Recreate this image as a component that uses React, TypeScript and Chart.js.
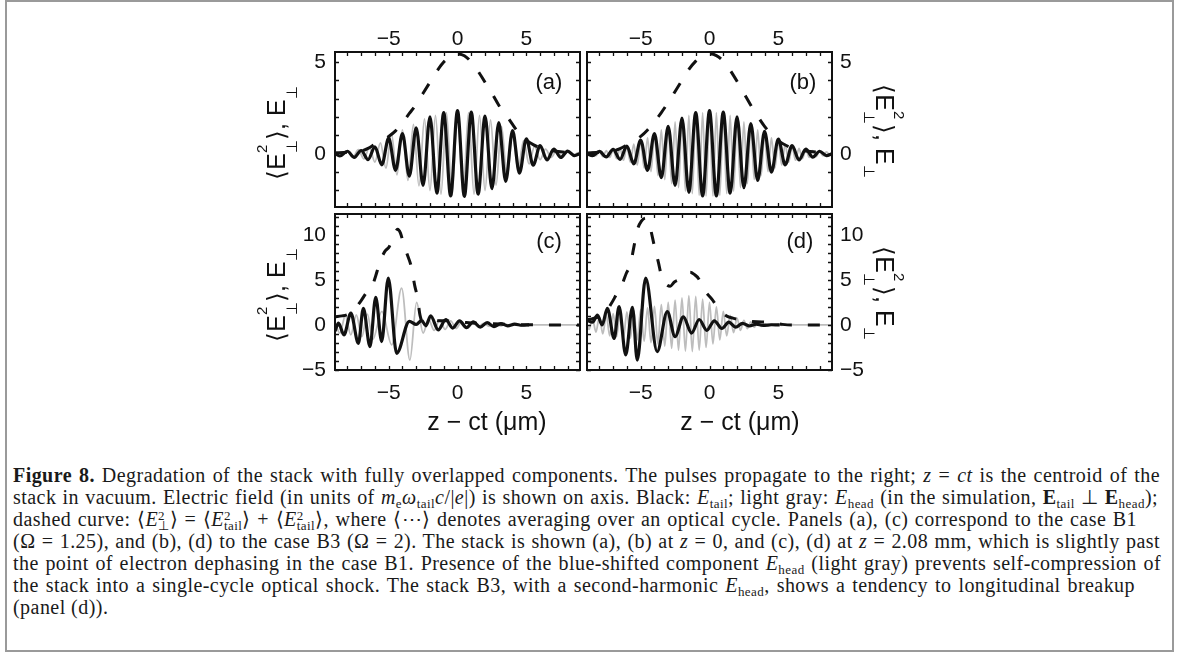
import React, { useEffect, useRef } from "react";
import { Chart, registerables } from "chart.js";

Chart.register(...registerables);

type Pt = [number, number];

// ---------- axes ----------
const X_MIN = -8.9;
const X_MAX = 8.9;
const X_TICK_LABELS = [-5, 0, 5];
const TOP_Y_MIN = -2.9;
const TOP_Y_MAX = 5.55;
const TOP_Y_TICK_LABELS = [0, 5];
const BOT_Y_MIN = -5;
const BOT_Y_MAX = 12.3;
const BOT_Y_TICK_LABELS = [-5, 0, 5, 10];
const PANEL_LABELS = ["(a)", "(b)", "(c)", "(d)"];
const X_TITLE = "z \u2212 ct (\u03bcm)";

// ---------- panel (a): case B1, z = 0 ----------
const tailA: Pt[] = [
  [-8.9, 0.02], [-8.55, -0.12], [-8.0, 0.14], [-7.5, -0.2], [-7.0, 0.18], [-6.5, -0.32],
  [-6.0, 0.38], [-5.5, -0.6], [-5.0, 0.85], [-4.5, -0.9], [-4.0, 1.1], [-3.5, -1.22],
  [-3.0, 1.42], [-2.5, -1.72], [-2.0, 2.02], [-1.5, -2.15], [-1.0, 2.25], [-0.5, -2.3],
  [0.0, 2.36], [0.5, -2.32], [1.0, 2.28], [1.5, -2.2], [2.0, 2.05], [2.5, -1.9],
  [3.0, 1.7], [3.5, -1.5], [4.0, 1.27], [4.5, -1.05], [5.0, 0.82], [5.5, -0.62],
  [6.0, 0.45], [6.5, -0.33], [7.0, 0.25], [7.5, -0.2], [8.0, 0.15], [8.5, -0.1], [8.9, 0.02],
];
const headA: Pt[] = [
  [-8.9, 0.0], [-8.8, 0.1], [-8.4, -0.12], [-8.0, 0.15], [-7.6, -0.18], [-7.2, 0.22], [-6.8, -0.28],
  [-6.4, 0.35], [-6.0, -0.45], [-5.6, 0.6], [-5.2, -0.78], [-4.8, 1.1], [-4.4, -1.15],
  [-4.0, 1.3], [-3.6, -1.45], [-3.2, 1.6], [-2.8, -1.75], [-2.4, 1.9], [-2.0, -2.0],
  [-1.6, 2.1], [-1.2, -2.2], [-0.8, 2.25], [-0.4, -2.3], [0.0, 2.3], [0.4, -2.3],
  [0.8, 2.25], [1.2, -2.2], [1.6, 2.1], [2.0, -2.0], [2.4, 1.85], [2.8, -1.7],
  [3.2, 1.5], [3.6, -1.3], [4.0, 1.1], [4.4, -0.9], [4.8, 0.72], [5.2, -0.55],
  [5.6, 0.42], [6.0, -0.32], [6.4, 0.25], [6.8, -0.2], [7.2, 0.16], [7.6, -0.13],
  [8.0, 0.1], [8.4, -0.08], [8.8, 0.06], [8.9, 0.0],
];
const dashA: Pt[] = [
  [-8.9, 0.05], [-8.0, 0.08], [-7.0, 0.15], [-6.5, 0.3], [-6.0, 0.52], [-5.5, 0.72],
  [-5.0, 0.95], [-4.5, 1.25], [-4.0, 1.7], [-3.5, 2.2], [-3.0, 2.7], [-2.5, 3.3],
  [-2.0, 3.9], [-1.5, 4.5], [-1.0, 5.0], [-0.5, 5.3], [0.0, 5.45], [0.5, 5.35],
  [1.0, 5.0], [1.5, 4.5], [2.0, 3.9], [2.5, 3.3], [3.0, 2.65], [3.5, 2.15],
  [4.0, 1.6], [4.5, 1.1], [5.0, 0.75], [5.5, 0.5], [6.0, 0.33], [7.0, 0.15],
  [8.0, 0.08], [8.9, 0.05],
];

// ---------- panel (b): case B3, z = 0 ----------
const tailB: Pt[] = [
  [-8.9, 0.0], [-8.5, -0.1], [-8.0, 0.13], [-7.5, -0.17], [-7.0, 0.24], [-6.5, -0.3],
  [-6.0, 0.42], [-5.5, -0.55], [-5.0, 0.75], [-4.5, -0.9], [-4.0, 1.1], [-3.5, -1.3],
  [-3.0, 1.5], [-2.5, -1.72], [-2.0, 1.95], [-1.5, -2.1], [-1.0, 2.25], [-0.5, -2.3],
  [0.0, 2.35], [0.5, -2.3], [1.0, 2.27], [1.5, -2.15], [2.0, 2.02], [2.5, -1.85],
  [3.0, 1.65], [3.5, -1.45], [4.0, 1.22], [4.5, -1.0], [5.0, 0.8], [5.5, -0.6],
  [6.0, 0.45], [6.5, -0.33], [7.0, 0.25], [7.5, -0.18], [8.0, 0.14], [8.5, -0.1], [8.9, 0.0],
];
const headB: Pt[] = [
  [-8.9, 0.0], [-8.75, -0.08], [-8.5, 0.1], [-8.25, -0.11], [-8.0, 0.13], [-7.75, -0.15],
  [-7.5, 0.17], [-7.25, -0.2], [-7.0, 0.23], [-6.75, -0.26], [-6.5, 0.3], [-6.25, -0.35],
  [-6.0, 0.4], [-5.75, -0.46], [-5.5, 0.53], [-5.25, -0.61], [-5.0, 0.69], [-4.75, -0.78],
  [-4.5, 0.87], [-4.25, -0.97], [-4.0, 1.08], [-3.75, -1.19], [-3.5, 1.3], [-3.25, -1.41],
  [-3.0, 1.52], [-2.75, -1.63], [-2.5, 1.74], [-2.25, -1.84], [-2.0, 1.94], [-1.75, -2.03],
  [-1.5, 2.1], [-1.25, -2.17], [-1.0, 2.2], [-0.75, -2.26], [-0.5, 2.25], [-0.25, -2.3],
  [0.0, 2.28], [0.25, -2.3], [0.5, 2.25], [0.75, -2.26], [1.0, 2.2], [1.25, -2.17],
  [1.5, 2.1], [1.75, -2.03], [2.0, 1.94], [2.25, -1.84], [2.5, 1.74], [2.75, -1.63],
  [3.0, 1.52], [3.25, -1.41], [3.5, 1.3], [3.75, -1.19], [4.0, 1.08], [4.25, -0.97],
  [4.5, 0.87], [4.75, -0.78], [5.0, 0.69], [5.25, -0.61], [5.5, 0.53], [5.75, -0.46],
  [6.0, 0.4], [6.25, -0.35], [6.5, 0.3], [6.75, -0.26], [7.0, 0.23], [7.25, -0.2],
  [7.5, 0.17], [7.75, -0.15], [8.0, 0.13], [8.25, -0.11], [8.5, 0.1], [8.75, -0.08], [8.9, 0.0],
];
const dashB: Pt[] = [
  [-8.9, 0.05], [-8.0, 0.08], [-7.0, 0.15], [-6.5, 0.28], [-6.0, 0.48], [-5.5, 0.7],
  [-5.0, 0.95], [-4.5, 1.3], [-4.0, 1.75], [-3.5, 2.25], [-3.0, 2.8], [-2.5, 3.4],
  [-2.0, 4.0], [-1.5, 4.6], [-1.0, 5.05], [-0.5, 5.35], [0.0, 5.45], [0.5, 5.35],
  [1.0, 5.05], [1.5, 4.55], [2.0, 3.95], [2.5, 3.3], [3.0, 2.65], [3.5, 2.05],
  [4.0, 1.5], [4.5, 1.05], [5.0, 0.72], [5.5, 0.48], [6.0, 0.32], [7.0, 0.15],
  [8.0, 0.08], [8.9, 0.05],
];

// ---------- panel (c): case B1, z = 2.08 mm ----------
const tailC: Pt[] = [
  [-8.9, -0.7], [-8.65, 0.2], [-8.25, -1.1], [-7.75, 1.3], [-7.2, -2.04], [-6.84, 1.85],
  [-6.36, -2.4], [-5.94, 3.07], [-5.51, -1.85], [-5.03, 5.2], [-4.42, -3.15], [-3.5, 0.4],
  [-3.0, 0.05], [-2.6, 0.5], [-2.3, -0.1], [-1.95, 1.0], [-1.4, -0.55], [-0.85, 0.6],
  [-0.35, -0.35], [0.15, 0.45], [0.65, -0.3], [1.15, 0.35], [1.65, -0.25], [2.15, 0.25],
  [2.65, -0.18], [3.15, 0.15], [3.65, -0.1], [4.15, 0.08], [4.7, -0.04], [5.2, 0.01],
];
const headC: Pt[] = [
  [-8.9, 0.3], [-8.55, -0.9], [-8.15, 1.0], [-7.75, -1.1], [-7.35, 1.1], [-6.95, -1.3],
  [-6.55, 1.2], [-6.15, -1.6], [-5.5, 1.5], [-4.78, -2.2], [-4.06, 4.07], [-3.46, -3.9],
  [-2.97, 2.5], [-2.5, -0.9], [-2.1, 0.6], [-1.7, -0.6], [-1.3, 0.55], [-0.9, -0.5],
  [-0.5, 0.45], [-0.1, -0.4], [0.3, 0.35], [0.7, -0.3], [1.1, 0.25], [1.5, -0.22],
  [1.9, 0.18], [2.3, -0.15], [2.7, 0.12], [3.1, -0.1], [3.5, 0.07], [3.9, -0.05],
  [4.4, 0.02], [5.0, 0.0], [8.9, 0.0],
];
const dashC: Pt[] = [
  [-8.9, 0.9], [-8.4, 1.0], [-8.0, 1.15], [-7.5, 1.7], [-7.0, 2.7], [-6.6, 3.6],
  [-6.25, 4.1], [-5.95, 5.4], [-5.65, 6.9], [-5.3, 8.1], [-4.95, 8.7], [-4.65, 9.8],
  [-4.35, 10.6], [-4.15, 10.2], [-3.9, 8.9], [-3.65, 7.8], [-3.35, 6.4], [-3.1, 4.3],
  [-2.9, 3.0], [-2.75, 1.3], [-2.6, 0.55], [-2.2, 0.5], [-1.8, 0.6], [-1.3, 0.45],
  [-0.8, 0.45], [-0.3, 0.35], [0.3, 0.3], [1.0, 0.22], [1.7, 0.18], [2.5, 0.12],
  [3.3, 0.08], [4.2, 0.04], [5.2, 0.01], [6.0, 0.0], [8.9, 0.0],
];

// ---------- panel (d): case B3, z = 2.08 mm ----------
const tailD: Pt[] = [
  [-8.9, 0.5], [-8.5, 0.3], [-8.14, 1.1], [-7.8, 0.0], [-7.42, 1.85], [-6.93, -1.5],
  [-6.57, 2.04], [-6.09, -3.33], [-5.6, 1.96], [-5.25, -3.9], [-4.64, 5.19], [-3.8, -2.96],
  [-3.07, 1.48], [-2.5, -1.3], [-1.9, 0.9], [-1.3, -0.9], [-0.75, 0.6], [-0.2, -0.6],
  [0.35, 0.45], [0.9, -0.4], [1.4, 0.3], [1.9, -0.25], [2.4, 0.18], [2.9, -0.12],
  [3.4, 0.08], [3.9, -0.05], [4.5, 0.02], [5.1, 0.0],
];
const headD: Pt[] = [
  [-8.9, 0.0], [-8.75, -0.5], [-8.5, 0.7], [-8.25, -0.8], [-8.0, 0.9], [-7.75, -1.0],
  [-7.5, 1.1], [-7.25, -1.2], [-7.0, 1.25], [-6.75, -1.3], [-6.5, 1.35], [-6.25, -1.4],
  [-6.0, 1.45], [-5.75, -1.5], [-5.5, 1.6], [-5.25, -1.65], [-5.0, 1.7], [-4.75, -1.8],
  [-4.5, 1.9], [-4.25, -1.95], [-4.0, 2.05], [-3.75, -2.1], [-3.5, 2.25], [-3.25, -2.35],
  [-3.0, 2.5], [-2.75, -2.6], [-2.5, 2.75], [-2.25, -2.8], [-2.0, 3.0], [-1.75, -2.9],
  [-1.5, 3.25], [-1.25, -2.95], [-1.0, 3.15], [-0.75, -2.8], [-0.5, 2.85], [-0.25, -2.5],
  [0.0, 2.5], [0.25, -2.1], [0.5, 2.0], [0.75, -1.65], [1.0, 1.5], [1.25, -1.2],
  [1.5, 1.05], [1.75, -0.85], [2.0, 0.75], [2.25, -0.6], [2.5, 0.5], [2.75, -0.4],
  [3.0, 0.33], [3.25, -0.26], [3.5, 0.2], [3.75, -0.16], [4.0, 0.13], [4.25, -0.1],
  [4.5, 0.08], [4.75, -0.06], [5.0, 0.05], [5.25, -0.04], [5.5, 0.03], [5.75, -0.03],
  [6.0, 0.02], [6.5, 0.0], [8.9, 0.0],
];
const dashD: Pt[] = [
  [-8.9, 0.55], [-8.5, 0.7], [-8.0, 0.95], [-7.5, 1.5], [-7.2, 2.2], [-6.9, 3.0],
  [-6.6, 3.9], [-6.3, 4.7], [-6.05, 5.7], [-5.75, 6.7], [-5.5, 8.6], [-5.25, 10.5],
  [-4.95, 11.5], [-4.64, 11.85], [-4.3, 10.7], [-4.0, 8.7], [-3.7, 6.85], [-3.5, 5.5],
  [-3.2, 4.6], [-2.85, 4.3], [-2.55, 4.75], [-2.15, 5.05], [-1.75, 5.5], [-1.4, 5.85],
  [-1.1, 5.6], [-0.8, 5.15], [-0.4, 3.9], [0.2, 2.8], [0.7, 1.7], [1.3, 0.95],
  [1.7, 0.75], [2.25, 0.55], [3.0, 0.38], [3.8, 0.33], [4.6, 0.22], [5.3, 0.06],
  [6.0, 0.0], [8.9, 0.0],
];

// ---------- styling ----------
const SANS = "'Liberation Sans', Arial, Helvetica, sans-serif";
const SERIF = "'Liberation Serif', 'Times New Roman', serif";
const INK = "#111111";
const GRAY = "#bdbdbd";

const fmtTick = (v: any) => {
  const n = Number(v);
  return n < 0 ? "\u2212" + Math.abs(n) : String(n);
};

const framePlugin = {
  id: "frameTicks",
  afterDraw(chart: any) {
    const { ctx, chartArea: a, scales } = chart;
    const xs = scales.x;
    const ys = scales.y;
    ctx.save();
    ctx.strokeStyle = INK;
    ctx.lineWidth = 1.3;
    ctx.beginPath();
    for (let v = Math.ceil(xs.min); v <= Math.floor(xs.max); v++) {
      const px = Math.round(xs.getPixelForValue(v)) + 0.5;
      ctx.moveTo(px, a.top);
      ctx.lineTo(px, a.top + 4);
      ctx.moveTo(px, a.bottom);
      ctx.lineTo(px, a.bottom - 4);
    }
    for (let v = Math.ceil(ys.min); v <= Math.floor(ys.max); v++) {
      const py = Math.round(ys.getPixelForValue(v)) + 0.5;
      ctx.moveTo(a.left, py);
      ctx.lineTo(a.left + 4, py);
      ctx.moveTo(a.right, py);
      ctx.lineTo(a.right - 4, py);
    }
    ctx.stroke();
    ctx.lineWidth = 2;
    ctx.strokeRect(a.left, a.top, a.right - a.left, a.bottom - a.top);
    ctx.restore();
  },
};

type PanelProps = {
  left: number;
  top: number;
  w: number;
  h: number;
  xSide: "top" | "bottom";
  ySide: "left" | "right";
  yMin: number;
  yMax: number;
  yTicks: number[];
  tail: Pt[];
  head: Pt[];
  dash: Pt[];
};

const AX_Y = 70;
const AX_X = 50;
const PAD = 30;

function Panel(p: PanelProps) {
  const ref = useRef<HTMLCanvasElement>(null);
  const padL = p.ySide === "left" ? AX_Y : PAD;
  const padR = p.ySide === "right" ? AX_Y : PAD;
  const padT = p.xSide === "top" ? AX_X : PAD;
  const padB = p.xSide === "bottom" ? AX_X : PAD;
  const cw = padL + p.w + padR;
  const ch = padT + p.h + padB;

  useEffect(() => {
    const toXY = (arr: Pt[]) => arr.map(([x, y]) => ({ x, y }));
    const tickFont = { family: SANS, size: 21 };
    const chart = new Chart(ref.current as HTMLCanvasElement, {
      type: "line",
      data: {
        datasets: [
          {
            data: toXY(p.head),
            borderColor: GRAY,
            borderWidth: 1.8,
            pointRadius: 0,
            cubicInterpolationMode: "monotone",
            fill: false,
            order: 2,
          },
          {
            data: toXY(p.tail),
            borderColor: INK,
            borderWidth: 3.2,
            pointRadius: 0,
            cubicInterpolationMode: "monotone",
            fill: false,
            order: 1,
          },
          {
            data: toXY(p.dash),
            borderColor: INK,
            borderWidth: 3,
            borderDash: [12, 16],
            pointRadius: 0,
            cubicInterpolationMode: "monotone",
            fill: false,
            order: 0,
          },
        ],
      } as any,
      options: {
        animation: false,
        responsive: false,
        maintainAspectRatio: false,
        events: [],
        layout: {
          padding: {
            left: p.ySide === "left" ? 0 : PAD,
            right: p.ySide === "right" ? 0 : PAD,
            top: p.xSide === "top" ? 0 : PAD,
            bottom: p.xSide === "bottom" ? 0 : PAD,
          },
        },
        plugins: { legend: { display: false }, tooltip: { enabled: false } },
        scales: {
          x: {
            type: "linear",
            position: p.xSide,
            min: X_MIN,
            max: X_MAX,
            grid: { display: false, drawTicks: false },
            border: { display: false },
            ticks: {
              font: tickFont,
              color: INK,
              padding: p.xSide === "top" ? 0 : 11,
              maxRotation: 0,
              autoSkip: false,
              callback: fmtTick,
            },
            afterBuildTicks: (s: any) => {
              s.ticks = X_TICK_LABELS.map((v) => ({ value: v }));
            },
            afterFit: (s: any) => {
              s.height = AX_X;
            },
          },
          y: {
            type: "linear",
            position: p.ySide,
            min: p.yMin,
            max: p.yMax,
            grid: { display: false, drawTicks: false },
            border: { display: false },
            ticks: {
              font: tickFont,
              color: INK,
              padding: p.ySide === "left" ? 9 : 8,
              autoSkip: false,
              callback: fmtTick,
            },
            afterBuildTicks: (s: any) => {
              s.ticks = p.yTicks.map((v) => ({ value: v }));
            },
            afterFit: (s: any) => {
              s.width = AX_Y;
            },
          },
        },
      } as any,
      plugins: [framePlugin],
    });
    return () => chart.destroy();
  }, []);

  return (
    <canvas
      ref={ref}
      width={cw}
      height={ch}
      style={{ position: "absolute", left: p.left - padL, top: p.top - padT, width: cw, height: ch }}
    />
  );
}

// sub in normal flow (natural width), optional superscript stacked above it
function SS(props: { sup?: string; sub: string; size: number; drop: number; rise: number }) {
  const { sup, sub, size, drop, rise } = props;
  return (
    <span
      style={{
        position: "relative",
        display: "inline-block",
        fontSize: size,
        lineHeight: `${size}px`,
        verticalAlign: -drop,
        fontStyle: "normal",
        fontWeight: "normal",
      }}
    >
      {sub}
      {sup !== undefined && (
        <span style={{ position: "absolute", left: 0, bottom: rise, fontSize: size, lineHeight: `${size}px` }}>{sup}</span>
      )}
    </span>
  );
}

function YTitle({ cx, cy, rot }: { cx: number; cy: number; rot: number }) {
  const W = 150;
  const H = 40;
  return (
    <div
      style={{
        position: "absolute",
        left: cx - W / 2,
        top: cy - H / 2,
        width: W,
        height: H,
        lineHeight: `${H}px`,
        textAlign: "center",
        fontSize: 25,
        fontFamily: SANS,
        color: INK,
        whiteSpace: "nowrap",
        transform: `rotate(${rot}deg)`,
      }}
    >
      {"\u27e8"}E
      <SS sup="2" sub={"\u22a5"} size={15} drop={12} rise={30} />
      {"\u27e9"}, E
      <SS sub={"\u22a5"} size={15} drop={12} rise={0} />
    </div>
  );
}

function TextAt({ cx, cy, text, size }: { cx: number; cy: number; text: string; size: number }) {
  const W = 200;
  const H = 40;
  return (
    <div
      style={{
        position: "absolute",
        left: cx - W / 2,
        top: cy - H / 2,
        width: W,
        height: H,
        lineHeight: `${H}px`,
        textAlign: "center",
        fontSize: size,
        fontFamily: SANS,
        color: INK,
        whiteSpace: "nowrap",
      }}
    >
      {text}
    </div>
  );
}

const CAP_LEFT = 13;
const CAP_TOP = 464;
const CAP_STEP = 22;
const CAP_SIZE = 20;

function CapLine({ i, width, children, last }: { i: number; width?: number; children: any; last?: boolean }) {
  return (
    <div
      style={{
        position: "absolute",
        left: CAP_LEFT,
        top: CAP_TOP + i * CAP_STEP,
        width: width,
        height: CAP_STEP,
        lineHeight: `${CAP_STEP}px`,
        fontFamily: SERIF,
        fontSize: CAP_SIZE,
        letterSpacing: "0.45px",
        color: "#1a1a1a",
        whiteSpace: "nowrap",
        textAlign: last ? "left" : "justify",
        textAlignLast: last ? "left" : "justify",
      } as any}
    >
      {children}
    </div>
  );
}

const sub = (t: string) => <SS sub={t} size={13} drop={4} rise={0} />;
const supsub = (t: string) => <SS sup="2" sub={t} size={13} drop={4} rise={10} />;

function Caption() {
  return (
    <>
      <CapLine i={0} width={1147}>
        <b>Figure 8.</b> Degradation of the stack with fully overlapped components. The pulses propagate to the right; <i>z</i> = <i>ct</i> is the centroid of the
      </CapLine>
      <CapLine i={1} width={1145}>
        stack in vacuum. Electric field (in units of <i>m</i>{sub("e")}<i>{"\u03c9"}</i>{sub("tail")}<i>c</i>/|<i>e</i>|) is shown on axis. Black: <i>E</i>{sub("tail")}; light gray: <i>E</i>{sub("head")} (in the simulation, <b>E</b>{sub("tail")} {"\u22a5"} <b>E</b>{sub("head")});
      </CapLine>
      <CapLine i={2} width={1124}>
        dashed curve: {"\u27e8"}<i>E</i>{supsub("\u22a5")}{"\u27e9"} = {"\u27e8"}<i>E</i>{supsub("tail")}{"\u27e9"} + {"\u27e8"}<i>E</i>{supsub("tail")}{"\u27e9"}, where {"\u27e8\u22ef\u27e9"} denotes averaging over an optical cycle. Panels (a), (c) correspond to the case B1
      </CapLine>
      <CapLine i={3} width={1147}>
        ({"\u03a9"} = 1.25), and (b), (d) to the case B3 ({"\u03a9"} = 2). The stack is shown (a), (b) at <i>z</i> = 0, and (c), (d) at <i>z</i> = 2.08 mm, which is slightly past
      </CapLine>
      <CapLine i={4} width={1148}>
        the point of electron dephasing in the case B1. Presence of the blue-shifted component <i>E</i>{sub("head")} (light gray) prevents self-compression of
      </CapLine>
      <CapLine i={5} width={1122}>
        the stack into a single-cycle optical shock. The stack B3, with a second-harmonic <i>E</i>{sub("head")}, shows a tendency to longitudinal breakup
      </CapLine>
      <CapLine i={6} last>
        (panel (d)).
      </CapLine>
    </>
  );
}

export default function App() {
  return (
    <div
      style={{
        position: "absolute",
        left: 0,
        top: 0,
        width: 1179,
        height: 655,
        background: "#ffffff",
        overflow: "hidden",
      }}
    >
      <div
        style={{
          position: "absolute",
          left: 5,
          top: 0,
          width: 1169,
          height: 652,
          border: "2px solid #9a9a9a",
          boxSizing: "border-box",
        }}
      />
      <Panel left={335} top={52} w={245} h={155} xSide="top" ySide="left" yMin={TOP_Y_MIN} yMax={TOP_Y_MAX} yTicks={TOP_Y_TICK_LABELS} tail={tailA} head={headA} dash={dashA} />
      <Panel left={587} top={52} w={245} h={155} xSide="top" ySide="right" yMin={TOP_Y_MIN} yMax={TOP_Y_MAX} yTicks={TOP_Y_TICK_LABELS} tail={tailB} head={headB} dash={dashB} />
      <Panel left={335} top={214} w={245} h={156} xSide="bottom" ySide="left" yMin={BOT_Y_MIN} yMax={BOT_Y_MAX} yTicks={BOT_Y_TICK_LABELS} tail={tailC} head={headC} dash={dashC} />
      <Panel left={587} top={214} w={245} h={156} xSide="bottom" ySide="right" yMin={BOT_Y_MIN} yMax={BOT_Y_MAX} yTicks={BOT_Y_TICK_LABELS} tail={tailD} head={headD} dash={dashD} />

      <TextAt cx={549} cy={82} text={PANEL_LABELS[0]} size={22} />
      <TextAt cx={803} cy={82} text={PANEL_LABELS[1]} size={22} />
      <TextAt cx={549} cy={241} text={PANEL_LABELS[2]} size={22} />
      <TextAt cx={800} cy={241} text={PANEL_LABELS[3]} size={22} />

      <YTitle cx={276} cy={133} rot={-90} />
      <YTitle cx={276} cy={295} rot={-90} />
      <YTitle cx={885} cy={131} rot={90} />
      <YTitle cx={885} cy={293} rot={90} />

      <TextAt cx={487} cy={421} text={X_TITLE} size={25} />
      <TextAt cx={740} cy={421} text={X_TITLE} size={25} />

      <Caption />
    </div>
  );
}
